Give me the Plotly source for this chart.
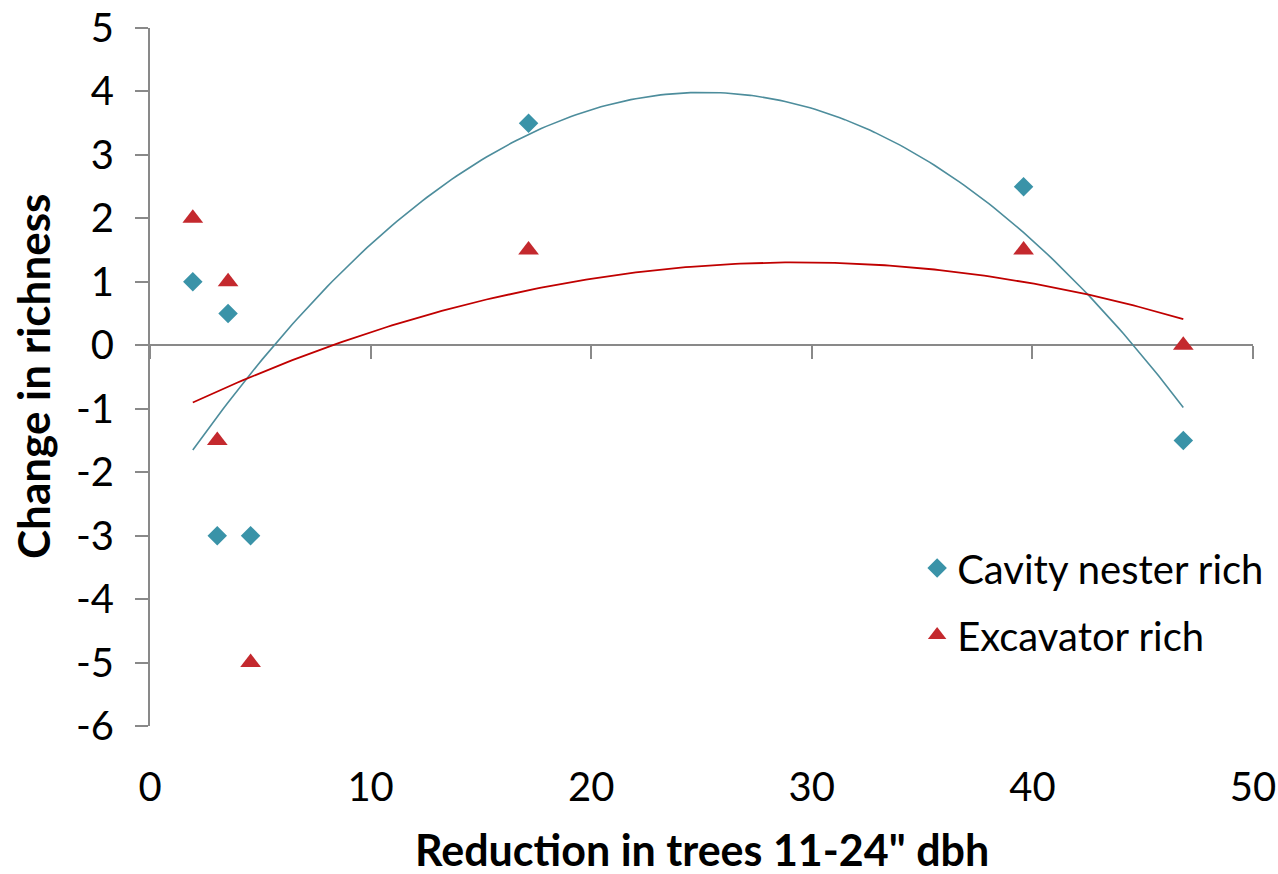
import numpy as np
import plotly.graph_objects as go

# Reduction in trees 11-24" dbh per site, and change in species richness
reduction = [1.94, 3.54, 3.05, 4.56, 17.16, 39.6, 46.84]
cavity_nester_rich = [1.0, 0.5, -3.0, -3.0, 3.5, 2.5, -1.5]
excavator_rich = [2.0, 1.0, -1.5, -5.0, 1.5, 1.5, 0.0]

x_ticks = [0, 10, 20, 30, 40, 50]
y_ticks = [5, 4, 3, 2, 1, 0, -1, -2, -3, -4, -5, -6]
y_tick_text = [str(v) for v in y_ticks]

TEAL = "#3A93A8"
TEAL_TREND = "#4D8D9C"
RED = "#C4292E"
RED_TREND = "#C00000"
GREY = "#898989"
FONT = "Lato"


def quad_trend(x, y, n=200):
    """Second-order polynomial trendline across the data's x range."""
    coeffs = np.polyfit(x, y, 2)
    xs = np.linspace(min(x), max(x), n)
    return xs, np.polyval(coeffs, xs)


fig = go.Figure()

cx, cy = quad_trend(reduction, cavity_nester_rich)
ex, ey = quad_trend(reduction, excavator_rich)

fig.add_trace(go.Scatter(
    x=reduction, y=cavity_nester_rich, mode="markers",
    name="Cavity nester rich", legendgroup="a",
    marker=dict(symbol="diamond", size=15, color=TEAL),
))
fig.add_trace(go.Scatter(
    x=reduction, y=excavator_rich, mode="markers",
    name="Excavator rich", legendgroup="b",
    marker=dict(symbol="triangle-up", size=18, color=RED),
))
fig.add_trace(go.Scatter(
    x=cx, y=cy, mode="lines", showlegend=False, hoverinfo="skip",
    line=dict(color=TEAL_TREND, width=1.6),
))
fig.add_trace(go.Scatter(
    x=ex, y=ey, mode="lines", showlegend=False, hoverinfo="skip",
    line=dict(color=RED_TREND, width=1.8),
))
# empty trace so the crossing axis at y = 0 gets its own subplot
fig.add_trace(go.Scatter(
    x=[], y=[], xaxis="x2", yaxis="y", showlegend=False, hoverinfo="skip",
))

fig.update_layout(
    width=1278, height=874,
    margin=dict(l=150, r=25, t=28, b=148, autoexpand=False),
    paper_bgcolor="white", plot_bgcolor="white",
    font=dict(family=FONT, color="black", size=40),
    showlegend=True,
    legend=dict(
        x=0.6955, y=0.273, xanchor="left", yanchor="top",
        font=dict(family=FONT, size=40, color="black"),
        tracegroupgap=12, bgcolor="rgba(0,0,0,0)",
    ),
    xaxis=dict(
        range=[0, 50], tickvals=x_ticks, ticktext=[str(v) for v in x_ticks],
        showline=False, showgrid=False, zeroline=False, ticks="",
        ticklabelstandoff=34, tickfont=dict(size=40),
        automargin=False, fixedrange=True,
    ),
    # axis crossing at y = 0 with downward tick marks
    xaxis2=dict(
        overlaying="x", anchor="free", position=6 / 11, matches="x",
        range=[0, 50], tickvals=x_ticks, showticklabels=False,
        showline=False, showgrid=False, zeroline=False,
        ticks="outside", ticklen=13, tickwidth=2, tickcolor=GREY,
        automargin=False,
    ),
    yaxis=dict(
        range=[-6, 5], tickvals=y_ticks, ticktext=y_tick_text,
        showline=True, linecolor=GREY, linewidth=2,
        ticks="outside", ticklen=13, tickwidth=2, tickcolor=GREY,
        showgrid=False, zeroline=True, zerolinecolor=GREY, zerolinewidth=2,
        ticklabelstandoff=13, tickfont=dict(size=40),
        automargin=False, fixedrange=True,
    ),
    annotations=[
        dict(
            text="<b>Reduction in trees 11-24\" dbh</b>",
            xref="paper", yref="paper", x=0.5, y=0, xanchor="center",
            yanchor="top", yshift=-96, showarrow=False,
            font=dict(family=FONT, size=43, color="black"),
        ),
        dict(
            text="<b>Change in richness</b>",
            xref="paper", yref="paper", x=0, y=0.5, xanchor="right",
            yanchor="middle", xshift=-89, textangle=-90, showarrow=False,
            font=dict(family=FONT, size=44, color="black"),
        ),
    ],
)

fig.write_html("out.html")
